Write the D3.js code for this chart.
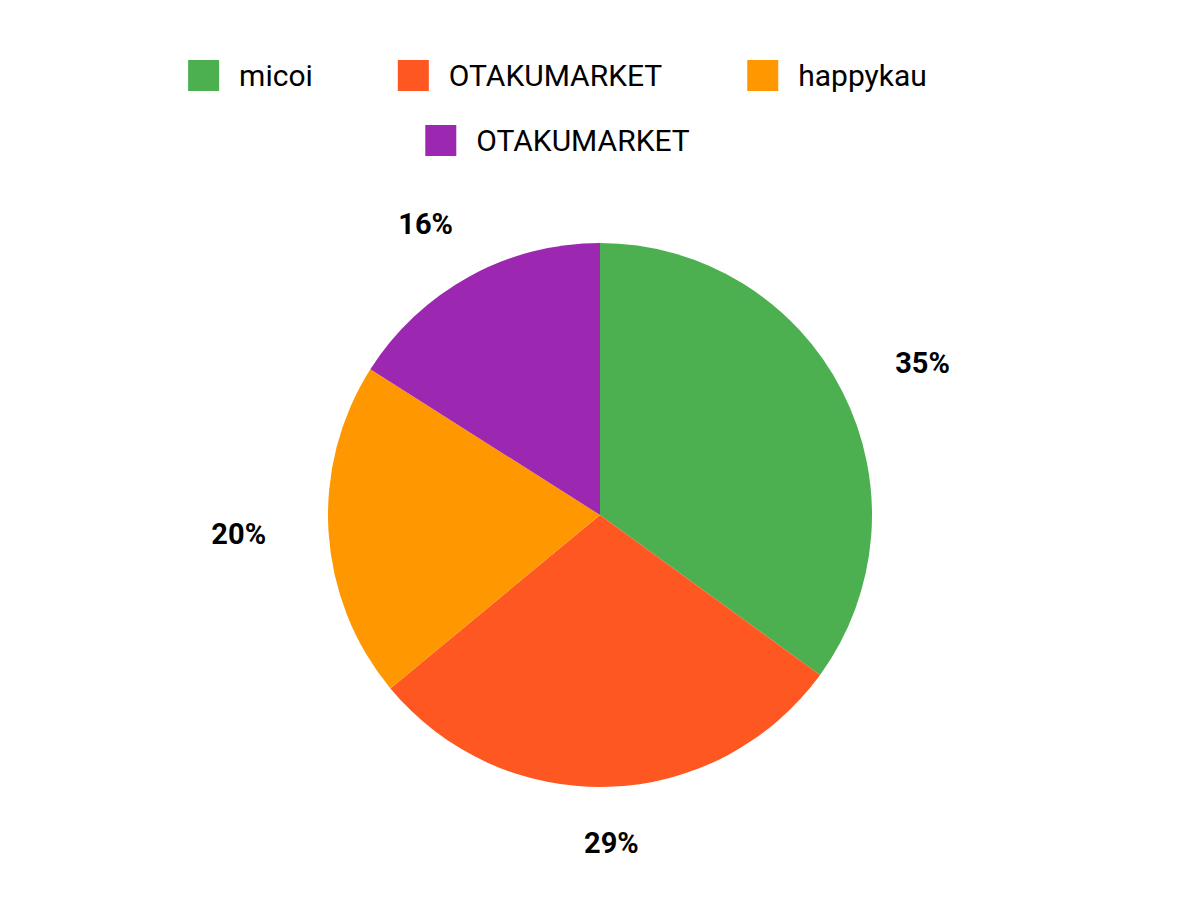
<!DOCTYPE html>
<html>
<head>
<meta charset="utf-8">
<script src="https://cdn.jsdelivr.net/npm/d3@7"></script>
<style>
  html, body { margin: 0; padding: 0; background: #fff; }
  svg { display: block; font-family: Roboto, "Noto Sans", sans-serif; }
</style>
</head>
<body>
<div id="chart"></div>
<script>
const labels = ["micoi", "OTAKUMARKET", "happykau", "OTAKUMARKET"];
const shares = [35, 29, 20, 16];
const colors = ["#4CAF50", "#FF5722", "#FF9800", "#9C27B0"];

const width = 1200;
const height = 900;
const cx = 600, cy = 515, radius = 272;

const data = labels.map((label, i) => ({ label, value: shares[i], color: colors[i], i }));

const svg = d3.select("#chart").append("svg")
  .attr("width", width)
  .attr("height", height);

// legend, laid out in centred rows
const legend = svg.append("g");
const box = 31, gap = 20, pad = 85, rowH = 65, maxRow = 880;
const items = data.map(d => {
  const g = legend.append("g");
  g.append("rect")
    .attr("width", box)
    .attr("height", box)
    .attr("fill", d.color);
  const t = g.append("text")
    .attr("x", box + gap)
    .attr("y", box / 2)
    .attr("dominant-baseline", "central")
    .style("font-size", "30px")
    .style("fill", "#000")
    .text(d.label);
  return { g, w: box + gap + t.node().getComputedTextLength() + pad };
});

const rows = [];
let cur = [], curW = 0;
items.forEach(it => {
  if (cur.length && curW + it.w > maxRow) { rows.push(cur); cur = []; curW = 0; }
  cur.push(it); curW += it.w;
});
rows.push(cur);

rows.forEach((row, r) => {
  const total = d3.sum(row, d => d.w);
  let x = width / 2 - total / 2;
  row.forEach(it => {
    it.g.attr("transform", `translate(${x}, ${60 + r * rowH})`);
    x += it.w;
  });
});

// pie
const pie = d3.pie().value(d => d.value).sort(null);
const arc = d3.arc().innerRadius(0).outerRadius(radius);
const arcs = pie(data);

const chart = svg.append("g")
  .attr("transform", `translate(${cx}, ${cy})`);

chart.selectAll(".slice")
  .data(arcs)
  .enter()
  .append("path")
  .attr("class", "slice")
  .attr("d", arc)
  .attr("fill", d => d.data.color);

chart.selectAll(".label")
  .data(arcs)
  .enter()
  .append("text")
  .attr("class", "label")
  .attr("x", d => Math.sin((d.startAngle + d.endAngle) / 2) * (radius + 90))
  .attr("y", d => -Math.cos((d.startAngle + d.endAngle) / 2) * (radius + 58) - 2)
  .attr("text-anchor", "middle")
  .attr("dominant-baseline", "central")
  .style("font-size", "29px")
  .style("font-weight", "bold")
  .style("fill", "#000")
  .text(d => `${d.data.value}%`);
</script>
</body>
</html>
